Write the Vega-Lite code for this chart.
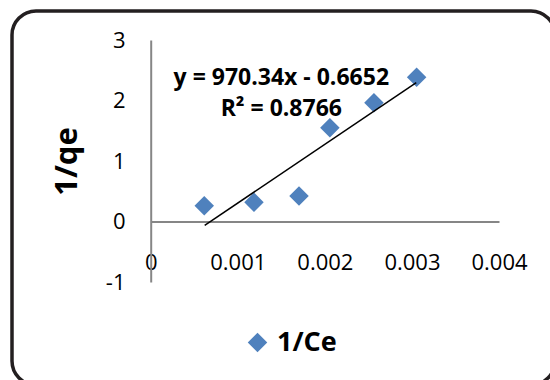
{
  "$schema": "https://vega.github.io/schema/vega-lite/v6.json",
  "autosize": "none",
  "width": 543,
  "height": 374,
  "padding": {"left": 12, "top": 11, "right": 0, "bottom": 0},
  "background": "white",
  "datasets": {
    "pts": [
      {"invCe": 0.000615, "invqe": 0.261},
      {"invCe": 0.001186, "invqe": 0.317},
      {"invCe": 0.001703, "invqe": 0.421},
      {"invCe": 0.002058, "invqe": 1.55},
      {"invCe": 0.002564, "invqe": 1.964},
      {"invCe": 0.003054, "invqe": 2.383}
    ],
    "trend": [
      {"invCe": 0.00062, "invqe": -0.063},
      {"invCe": 0.00305, "invqe": 2.294}
    ],
    "notes": [
      {"invCe": 0.0015, "invqe": 2.37, "label": "y = 970.34x - 0.6652"},
      {"invCe": 0.0015, "invqe": 1.86, "label": "R² = 0.8766"}
    ]
  },
  "layer": [
    {
      "data": {"name": "pts"},
      "mark": {"type": "point", "shape": "diamond", "filled": true, "size": 380, "opacity": 1},
      "encoding": {
        "x": {
          "field": "invCe", "type": "quantitative",
          "scale": {"domain": [0, 0.004], "range": [138.7, 487], "nice": false, "zero": false},
          "axis": {
            "orient": "bottom", "offset": -163.5, "values": [0, 0.001, 0.002, 0.003, 0.004],
            "labelExpr": "'' + datum.value", "labelFlush": false, "labelOverlap": false,
            "grid": false, "ticks": false, "domain": true,
            "domainColor": "#868686", "domainWidth": 2,
            "labelPadding": 31, "labelFontSize": 22, "labelFont": "Open Sans", "labelColor": "#000000",
            "title": null
          }
        },
        "y": {
          "field": "invqe", "type": "quantitative",
          "scale": {"domain": [-1, 3], "range": [271, 29], "nice": false, "zero": false},
          "axis": {
            "orient": "left", "offset": -138.7, "values": [-1, 0, 1, 2, 3],
            "labelExpr": "'' + datum.value", "labelFlush": false, "labelOverlap": false,
            "grid": false, "ticks": false, "domain": true,
            "domainColor": "#868686", "domainWidth": 2,
            "labelPadding": 25.7, "labelFontSize": 22, "labelFont": "Open Sans", "labelColor": "#000000",
            "title": "1/qe", "titleFont": "Open Sans", "titleFontSize": 31, "titleFontWeight": "bold",
            "titleColor": "#000000", "titlePadding": 22
          }
        },
        "color": {
          "datum": "1/Ce",
          "scale": {"range": ["#4F81BD"]},
          "legend": {
            "title": null, "orient": "none", "legendX": 232, "legendY": 318,
            "symbolType": "diamond", "symbolSize": 380, "symbolStrokeWidth": 0,
            "labelFont": "Open Sans", "labelFontSize": 27, "labelFontWeight": "bold",
            "labelColor": "#000000", "labelOffset": 6, "padding": 0
          }
        }
      }
    },
    {
      "data": {"name": "trend"},
      "mark": {"type": "line", "color": "#000000", "strokeWidth": 1.5},
      "encoding": {
        "x": {"field": "invCe", "type": "quantitative"},
        "y": {"field": "invqe", "type": "quantitative"}
      }
    },
    {
      "data": {"name": "notes"},
      "mark": {"type": "text", "font": "Open Sans", "fontSize": 23, "fontWeight": "bold", "color": "#000000", "align": "center", "baseline": "middle"},
      "encoding": {
        "x": {"field": "invCe", "type": "quantitative"},
        "y": {"field": "invqe", "type": "quantitative"},
        "text": {"field": "label"}
      }
    }
  ],
  "config": {
    "view": {"stroke": "#231f20", "strokeWidth": 3.5, "cornerRadius": 24}
  }
}
